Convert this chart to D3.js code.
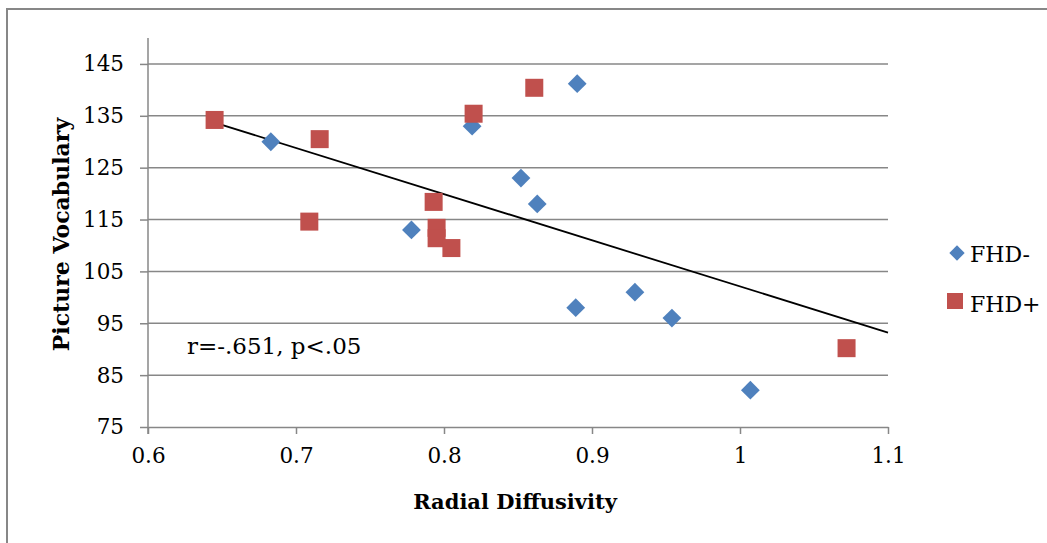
<!DOCTYPE html>
<html>
<head>
<meta charset="utf-8">
<script src="https://cdn.jsdelivr.net/npm/d3@7"></script>
<style>
  body { margin: 0; background: #fff; }
  svg text { font-family: "DejaVu Serif", serif; fill: #000; }
</style>
</head>
<body>
<div id="chart"></div>
<script>
// radial diffusivity (x) vs picture vocabulary (y)
const fhdMinusX = [0.683, 0.819, 0.890, 0.852, 0.863, 0.778, 0.889, 0.929, 0.954, 1.007];
const fhdMinusY = [130, 133, 141.2, 123, 118, 113, 98, 101, 96, 82.1];
const fhdPlusX = [0.645, 0.716, 0.709, 0.861, 0.820, 0.793, 0.795, 0.795, 0.805, 1.072];
const fhdPlusY = [134.2, 130.5, 114.6, 140.4, 135.4, 118.4, 113.4, 111.4, 109.5, 90.2];
const seriesNames = ['FHD-', 'FHD+'];
// trendline ends
const trendX = [0.645, 1.1];
const trendY = [133.7, 93.2];
const xTicks = [0.6, 0.7, 0.8, 0.9, 1, 1.1];
const yTicks = [75, 85, 95, 105, 115, 125, 135, 145];
const note = 'r=-.651, p<.05';

const W = 1047, H = 543;
const blue = '#4f81bd', red = '#c0504d', grid = '#878787';

const svg = d3.select('#chart').append('svg')
    .attr('width', W).attr('height', H);

// outer chart border (runs off the right and bottom edges)
svg.append('rect')
    .attr('x', 7).attr('y', 9)
    .attr('width', W + 20).attr('height', H + 20)
    .attr('fill', 'none').attr('stroke', grid).attr('stroke-width', 2);

const x = d3.scaleLinear().domain([0.6, 1.1]).range([148, 888]);
const y = d3.scaleLinear().domain([75, 150]).range([427, 38]);

// gridlines
svg.append('g').selectAll('line')
    .data(yTicks.filter(d => d > 75))
    .join('line')
    .attr('x1', x(0.6)).attr('x2', x(1.1))
    .attr('y1', d => y(d)).attr('y2', d => y(d))
    .attr('stroke', grid).attr('stroke-width', 1.5);

// y axis
const yAxis = svg.append('g')
    .attr('transform', `translate(${x(0.6)},0)`)
    .call(d3.axisLeft(y).tickValues(yTicks).tickSize(8).tickSizeOuter(0).tickPadding(16)
        .tickFormat(d => '' + d));
yAxis.select('.domain').attr('stroke', grid).attr('stroke-width', 1.5)
    .attr('d', `M0,${y(150)}V${y(75) + 7}`);
yAxis.selectAll('.tick line').attr('stroke', grid).attr('stroke-width', 1.5);
yAxis.selectAll('.tick text').attr('font-size', 21.5).attr('font-family', '"DejaVu Serif", serif');

// x axis
const xAxis = svg.append('g')
    .attr('transform', `translate(0,${y(75)})`)
    .call(d3.axisBottom(x).tickValues(xTicks).tickSize(7).tickSizeOuter(0).tickPadding(14)
        .tickFormat(d => '' + d));
xAxis.select('.domain').attr('stroke', grid).attr('stroke-width', 1.5);
xAxis.selectAll('.tick line').attr('stroke', grid).attr('stroke-width', 1.5);
xAxis.selectAll('.tick text').attr('font-size', 21.5).attr('font-family', '"DejaVu Serif", serif');

// axis titles
svg.append('text')
    .attr('x', (x(0.6) + x(1.1)) / 2 - 3).attr('y', 509)
    .attr('text-anchor', 'middle').attr('font-size', 21).attr('font-weight', 'bold')
    .text('Radial Diffusivity');
svg.append('text')
    .attr('transform', `translate(69,${(y(150) + y(75)) / 2 + 2}) rotate(-90)`)
    .attr('text-anchor', 'middle').attr('font-size', 22).attr('font-weight', 'bold')
    .text('Picture Vocabulary');

// linear trendline
svg.append('path')
    .datum(trendX.map((v, i) => [v, trendY[i]]))
    .attr('fill', 'none').attr('stroke', '#000').attr('stroke-width', 1.8)
    .attr('d', d3.line().x(d => x(d[0])).y(d => y(d[1])));

// points
svg.append('g').selectAll('path')
    .data(fhdMinusX.map((v, i) => [v, fhdMinusY[i]]))
    .join('path')
    .attr('transform', d => `translate(${x(d[0])},${y(d[1])})`)
    .attr('d', d3.symbol().type(d3.symbolDiamond2).size(225)())
    .attr('fill', blue);
svg.append('g').selectAll('rect')
    .data(fhdPlusX.map((v, i) => [v, fhdPlusY[i]]))
    .join('rect')
    .attr('x', d => x(d[0]) - 9).attr('y', d => y(d[1]) - 9)
    .attr('width', 18).attr('height', 18)
    .attr('fill', red);

// annotation
svg.append('text')
    .attr('x', 187).attr('y', 354)
    .attr('font-size', 23)
    .text(note);

// legend
const leg = svg.append('g');
leg.append('path')
    .attr('transform', 'translate(957,253)')
    .attr('d', d3.symbol().type(d3.symbolDiamond2).size(150)())
    .attr('fill', blue);
leg.append('rect')
    .attr('x', 947).attr('y', 293).attr('width', 16).attr('height', 16)
    .attr('fill', red);
leg.selectAll('text.lab')
    .data(seriesNames)
    .join('text')
    .attr('class', 'lab')
    .attr('x', 970).attr('y', (d, i) => 262 + i * 50)
    .attr('font-size', 22)
    .text(d => d);
</script>
</body>
</html>
